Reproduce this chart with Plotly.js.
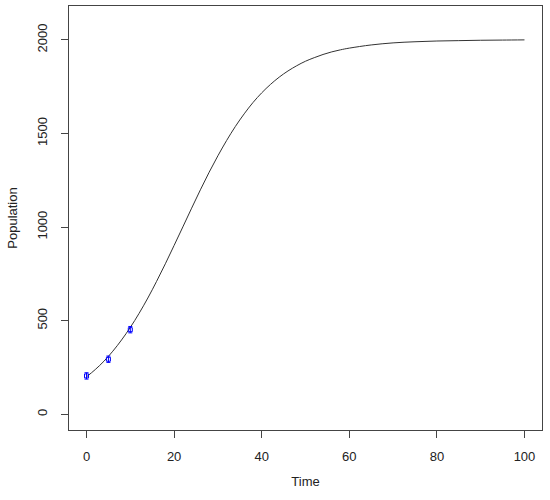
<!DOCTYPE html>
<html>
<head>
<meta charset="utf-8">
<script src="https://cdn.plot.ly/plotly-3.0.1.min.js"></script>
<style>
  html, body { margin: 0; padding: 0; background: #fff; }
  #plot { width: 550px; height: 500px; }
</style>
</head>
<body>
<div id="plot"></div>
<script>
// model curve
var curveTime = [0, 2, 4, 6, 8, 10, 12, 14, 16, 18, 20, 22, 24, 26, 28, 30, 32, 34, 36, 38,
                 40, 42, 44, 46, 48, 50, 52, 54, 56, 58, 60, 65, 70, 75, 80, 85, 90, 95, 100];
var curvePop = [200, 239, 284, 337, 397, 464, 539, 621, 710, 804, 902, 1001, 1101, 1199, 1293, 1381, 1463, 1538, 1605, 1665,
                1717, 1762, 1801, 1834, 1862, 1886, 1905, 1922, 1936, 1947, 1956, 1973, 1984, 1990, 1994, 1996, 1998, 1999, 2000];

// observed points (blue)
var obsTime = [0, 5, 10];
var obsPop = [205, 294, 452];
var obsErr = [17, 17, 17];

var xTicks = [0, 20, 40, 60, 80, 100];
var yTicks = [0, 500, 1000, 1500, 2000];

var axisCol = '#444';
var fontFam = 'Liberation Sans, Arial, sans-serif';

var traces = [
  {
    x: curveTime, y: curvePop,
    mode: 'lines',
    line: {color: '#333', width: 1, shape: 'spline'},
    hoverinfo: 'skip'
  },
  {
    x: obsTime, y: obsPop,
    mode: 'markers',
    marker: {symbol: 'square-open', size: 4, color: 'blue', line: {color: 'blue', width: 1}},
    error_y: {type: 'data', array: obsErr, visible: true, color: 'blue', thickness: 1, width: 2}
  }
];

var layout = {
  width: 550, height: 500,
  showlegend: false,
  paper_bgcolor: '#fff', plot_bgcolor: '#fff',
  font: {family: fontFam, size: 13, color: '#222'},
  margin: {l: 69, r: 8, t: 6, b: 70, pad: 0},
  xaxis: {
    range: [-4, 104],
    tickvals: xTicks,
    ticks: 'outside', ticklen: 7, tickcolor: axisCol, tickwidth: 1,
    ticklabelstandoff: 7,
    showline: true, mirror: true, linecolor: axisCol, linewidth: 1,
    showgrid: false, zeroline: false,
    title: {text: 'Time', font: {size: 13}, standoff: 14}
  },
  yaxis: {
    range: [-84, 2181],
    tickvals: yTicks,
    tickangle: -90,
    ticks: 'outside', ticklen: 7, tickcolor: axisCol, tickwidth: 1,
    ticklabelstandoff: 9,
    showline: true, mirror: true, linecolor: axisCol, linewidth: 1,
    showgrid: false, zeroline: false,
    title: {text: 'Population', font: {size: 13}, standoff: 14}
  }
};

Plotly.newPlot('plot', traces, layout, {displayModeBar: false, staticPlot: true});
</script>
</body>
</html>
